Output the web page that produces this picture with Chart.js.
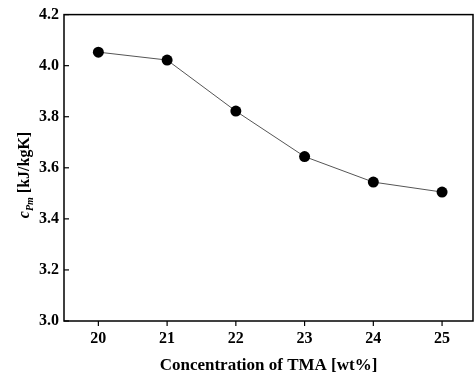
<!DOCTYPE html>
<html>
<head>
<meta charset="utf-8">
<script src="https://cdn.jsdelivr.net/npm/chart.js@4"></script>
<style>
  html, body { margin: 0; padding: 0; background: #fff; }
  #wrap { width: 475px; height: 380px; }
</style>
</head>
<body>
<div id="wrap"><canvas id="cpChart" width="475" height="380"></canvas></div>
<script>
// Data
const concentration = [20, 21, 22, 23, 24, 25];
const cpm = [4.053, 4.022, 3.822, 3.644, 3.544, 3.505];
const xTicks = [20, 21, 22, 23, 24, 25];
const yTicks = [3.0, 3.2, 3.4, 3.6, 3.8, 4.0, 4.2];

const serif = '"Liberation Serif", "DejaVu Serif", serif';

// frame around the plot, tick marks, and the y title with subscript
const framePlugin = {
  id: 'frame',
  afterDraw(chart) {
    const { ctx, chartArea: a, scales } = chart;
    ctx.save();
    ctx.strokeStyle = '#000';
    ctx.lineWidth = 1.5;
    ctx.strokeRect(a.left, a.top, a.right - a.left, a.bottom - a.top);
    ctx.lineWidth = 1.2;
    yTicks.forEach(v => {
      const y = scales.y.getPixelForValue(v);
      ctx.beginPath();
      ctx.moveTo(a.left, y);
      ctx.lineTo(a.left + 5, y);
      ctx.stroke();
    });
    xTicks.forEach(v => {
      const x = scales.x.getPixelForValue(v);
      ctx.beginPath();
      ctx.moveTo(x, a.bottom);
      ctx.lineTo(x, a.bottom + 5);
      ctx.stroke();
    });

    // y axis title: c_Pm [kJ/kgK]
    const big = 'italic bold 16px ' + serif;
    const small = 'italic bold 10px ' + serif;
    const norm = 'bold 16px ' + serif;
    ctx.font = big; const w1 = ctx.measureText('c').width;
    ctx.font = small; const w2 = ctx.measureText('Pm').width;
    ctx.font = norm; const w3 = ctx.measureText(' [kJ/kgK]').width;
    const total = w1 + w2 + w3;
    ctx.translate(29, 175);
    ctx.rotate(-Math.PI / 2);
    ctx.fillStyle = '#000';
    ctx.textBaseline = 'alphabetic';
    let x = -total / 2;
    ctx.font = big; ctx.fillText('c', x, 0); x += w1;
    ctx.font = small; ctx.fillText('Pm', x, 4); x += w2;
    ctx.font = norm; ctx.fillText(' [kJ/kgK]', x, 0);
    ctx.restore();
  }
};

new Chart(document.getElementById('cpChart'), {
  type: 'scatter',
  data: {
    datasets: [{
      data: concentration.map((c, i) => ({ x: c, y: cpm[i] })),
      showLine: true,
      borderColor: '#555',
      borderWidth: 1,
      tension: 0,
      pointRadius: 5.5,
      pointBackgroundColor: '#000',
      pointBorderColor: '#000',
      pointBorderWidth: 0
    }]
  },
  options: {
    responsive: false,
    animation: false,
    layout: { autoPadding: false, padding: { top: 10, right: 2, left: 0, bottom: 0 } },
    plugins: { legend: { display: false }, tooltip: { enabled: false } },
    scales: {
      x: {
        type: 'linear',
        min: 19.5,
        max: 25.45,
        afterBuildTicks: s => { s.ticks = xTicks.map(v => ({ value: v })); },
        afterFit: s => { s.height = 59; },
        grid: { display: false, drawTicks: false },
        border: { display: false },
        ticks: {
          color: '#000',
          padding: 8,
          maxRotation: 0,
          font: { family: serif, size: 16, weight: 'bold' }
        },
        title: {
          display: true,
          text: 'Concentration of TMA [wt%]',
          color: '#000',
          padding: { top: 0, bottom: 4 },
          font: { family: serif, size: 17, weight: 'bold' }
        }
      },
      y: {
        min: 3.0,
        max: 4.2,
        afterBuildTicks: s => { s.ticks = yTicks.map(v => ({ value: v })); },
        afterFit: s => { s.width = 64; },
        grid: { display: false, drawTicks: false },
        border: { display: false },
        ticks: {
          color: '#000',
          padding: 5,
          font: { family: serif, size: 16, weight: 'bold' },
          callback: v => v.toFixed(1)
        }
      }
    }
  },
  plugins: [framePlugin]
});
</script>
</body>
</html>
